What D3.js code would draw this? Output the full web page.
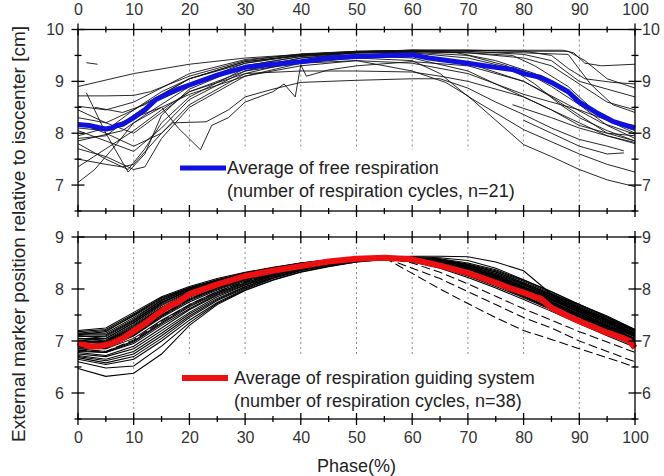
<!DOCTYPE html>
<html><head><meta charset="utf-8">
<script src="https://cdn.jsdelivr.net/npm/d3@7"></script>
<style>
html,body{margin:0;padding:0;background:#fff;}
svg{display:block;font-family:"Liberation Sans",Arial,sans-serif;}
</style></head>
<body><svg id="chart" width="664" height="476"></svg>
<script>
// ---------------- data ----------------
const xMajorTicks = [0,10,20,30,40,50,60,70,80,90,100];
const xMinorTicks = [5,15,25,35,45,55,65,75,85,95];
const gridPhases = [10,20,30,40,50,60,70,80,90];
const topYMajor = [7,8,9,10];
const topYMinor = [6.5,7.5,8.5,9.5];
const botYMajor = [6,7,8,9];
const botYMinor = [5.5,6.5,7.5,8.5];
const xLabel = "Phase(%)";
const yLabel = "External marker position relative to isocenter [cm]";
const topLegend = ["Average of free respiration", "(number of respiration cycles, n=21)"];
const botLegend = ["Average of respiration guiding system", "(number of respiration cycles, n=38)"];

// average of free respiration (blue)
const bluePhase = [0,2,4,5,6,7,8,10,12,14,16,18,20,25,30,35,40,45,50,55,60,63,65,68,70,75,78,80,83,85,88,90,93,96,100];
const blueVals  = [8.17,8.15,8.1,8.08,8.1,8.15,8.17,8.3,8.45,8.65,8.75,8.85,8.93,9.12,9.27,9.33,9.38,9.45,9.48,9.5,9.51,9.45,9.42,9.38,9.35,9.27,9.23,9.15,9.08,8.98,8.8,8.6,8.4,8.23,8.1];

// average of respiration guiding system (red)
const redPhase = [0,2,4,6,8,10,12,14,16,18,20,25,30,35,40,45,50,55,60,65,70,75,78,80,82,83,85,88,90,93,95,98,99,100];
const redVals  = [6.97,6.9,6.9,6.95,7.05,7.19,7.33,7.5,7.65,7.75,7.9,8.09,8.25,8.35,8.44,8.53,8.58,8.6,8.57,8.45,8.31,8.12,8.0,7.93,7.85,7.82,7.64,7.48,7.38,7.25,7.16,7.05,7.0,6.87];

// individual free-respiration cycles: [phase, position]
const freeCycles = [
  [[0,8.9],[10,9.15],[20,9.33],[30,9.45],[40,9.52],[50,9.57],[60,9.6],[70,9.6],[80,9.6],[87,9.6],[89,9.55],[91,9.35],[94,9.3],[100,9.33]],
  [[1.5,9.36],[3.5,9.33]],
  [[0,8.72],[5,8.72],[10,8.73],[13,8.8],[20,9.1],[30,9.4],[40,9.53],[50,9.58],[60,9.6],[70,9.6],[80,9.58],[88,9.58],[91,9.4],[95,9.05],[100,8.87]],
  [[0,8.52],[5,8.45],[10,8.6],[20,9.15],[30,9.42],[40,9.52],[50,9.57],[60,9.6],[70,9.58],[80,9.52],[85,9.4],[90,9.0],[95,8.85],[100,8.7]],
  [[0,8.3],[5,8.2],[10,8.45],[20,9.05],[30,9.38],[40,9.5],[50,9.56],[60,9.58],[70,9.55],[80,9.45],[85,9.3],[90,8.95],[95,8.6],[100,8.45]],
  [[1.5,8.78],[5,8.0],[9,7.25],[12,7.6],[15,8.35],[20,8.85],[30,9.3],[40,9.48],[50,9.55],[60,9.58],[70,9.55],[78,9.5],[82,9.3],[88,8.9],[92,8.5],[96,8.2],[100,8.0]],
  [[0,8.05],[5,7.85],[10,7.65],[15,8.1],[20,8.65],[30,9.2],[40,9.45],[50,9.55],[60,9.55],[70,9.45],[80,9.2],[85,8.9],[90,8.55],[95,8.15],[100,7.9]],
  [[0,7.95],[5,8.1],[10,8.3],[15,8.5],[18,8.1],[22,7.68],[24,8.15],[27,8.3],[30,8.6],[33,8.72],[35,8.8],[37,8.95],[39,8.7],[40,9.32],[41,9.1],[45,9.22],[50,9.3],[60,9.38],[70,9.3],[80,9.0],[88,8.55],[94,8.2],[100,7.98]],
  [[0,7.8],[5,7.5],[9,7.3],[12,7.7],[15,8.2],[20,8.7],[30,9.25],[40,9.45],[50,9.52],[60,9.5],[70,9.35],[80,9.0],[85,8.7],[90,8.35],[95,8.0],[100,7.85]],
  [[0,7.5],[5,7.4],[8,7.35],[10,7.4],[15,8.0],[20,8.55],[30,9.15],[40,9.4],[50,9.5],[60,9.45],[70,9.2],[80,8.7],[85,8.45],[90,8.2],[95,7.95],[100,7.8]],
  [[0,7.05],[3,7.3],[7,7.8],[10,8.2],[15,8.5],[20,8.75],[30,9.1],[40,9.35],[50,9.45],[60,9.4],[65,9.15],[70,8.71],[80,8.07],[90,7.6],[95,7.4],[100,7.25]],
  [[0,7.35],[5,7.7],[10,8.05],[15,8.45],[20,8.8],[30,9.2],[40,9.35],[50,9.4],[60,9.2],[66,8.98],[70,8.72],[75,8.25],[80,7.78],[85,7.55],[90,7.3],[95,7.1],[100,6.97]],
  [[0,8.2],[5,8.0],[10,7.75],[15,8.0],[17,8.2],[23,8.22],[27,8.45],[30,8.7],[35,8.85],[40,8.98],[50,9.02],[60,9.05],[65,9.05],[70,8.87],[75,8.6],[80,8.36],[85,8.1],[90,7.88],[95,7.75],[98,7.66]],
  [[0,8.45],[5,8.2],[10,8.0],[15,8.4],[20,8.8],[30,9.15],[40,9.2],[50,9.2],[60,9.18],[65,9.1],[70,9.0],[80,8.7],[85,8.45],[90,8.15],[95,8.0],[100,7.95]],
  [[0,7.9],[5,7.95],[10,8.35],[15,8.7],[20,8.95],[30,9.35],[40,9.52],[50,9.58],[60,9.6],[70,9.6],[80,9.58],[85,9.5],[88,9.25],[91,9.05],[96,8.98],[100,8.95]],
  [[0,8.1],[5,8.05],[10,8.45],[15,8.8],[20,9.05],[30,9.38],[40,9.5],[50,9.56],[60,9.58],[70,9.57],[80,9.55],[88,9.52],[92,8.95],[96,8.55],[100,8.4]],
  [[3,8.5],[8,8.4],[12,8.55],[20,9.05],[30,9.35],[40,9.5],[50,9.55],[60,9.56],[70,9.5],[77,9.3],[82,8.95],[86,8.6],[90,8.3],[95,8.05],[100,7.85]],
  [[78,8.55],[85,8.3],[90,8.1],[95,7.95],[100,7.82]],
  [[80,8.25],[85,8.0],[90,7.75],[95,7.6],[98,7.62]],
  [[0,7.7],[5,7.55],[10,7.3],[12,7.35],[15,7.9],[20,8.5],[30,9.1],[40,9.3],[50,9.4],[60,9.35],[70,9.15],[80,8.75],[90,8.45],[95,8.25],[100,8.05]],
  [[0,7.85],[4,7.95],[8,8.05],[12,8.35],[20,8.9],[30,9.3],[40,9.48],[50,9.55],[60,9.57],[68,9.55],[75,9.4],[82,9.15],[88,8.8],[92,8.45],[96,8.2],[100,8.15]]
];

// individual respiration-guided cycles, values at bottomPhases
const bottomPhases = [0,5,10,15,20,25,30,35,40,45,50,55,60,65,70,75,80,85,90,95,100];
const guidedCycles = [
  [7.20,7.25,7.55,7.85,8.05,8.20,8.32,8.42,8.50,8.56,8.60,8.62,8.62,8.60,8.55,8.40,8.18,7.95,7.70,7.45,7.20],
  [7.15,7.15,7.45,7.78,8.00,8.15,8.28,8.40,8.48,8.55,8.60,8.62,8.60,8.55,8.45,8.30,8.10,7.88,7.62,7.38,7.12],
  [7.10,7.05,7.35,7.70,7.95,8.12,8.27,8.38,8.47,8.54,8.59,8.61,8.58,8.50,8.38,8.22,8.02,7.80,7.55,7.30,7.05],
  [7.05,7.00,7.25,7.62,7.90,8.10,8.25,8.37,8.46,8.53,8.58,8.60,8.56,8.45,8.30,8.12,7.92,7.70,7.45,7.22,6.98],
  [7.00,6.95,7.20,7.55,7.85,8.05,8.22,8.35,8.45,8.52,8.57,8.59,8.55,8.42,8.27,8.08,7.85,7.62,7.40,7.18,6.95],
  [6.95,6.90,7.15,7.50,7.80,8.02,8.20,8.33,8.43,8.51,8.57,8.60,8.57,8.48,8.35,8.18,7.97,7.73,7.48,7.25,7.05],
  [6.90,6.88,7.10,7.45,7.75,7.98,8.17,8.31,8.42,8.50,8.56,8.60,8.58,8.52,8.42,8.26,8.05,7.82,7.58,7.35,7.10],
  [6.85,6.85,7.05,7.40,7.70,7.95,8.15,8.30,8.41,8.50,8.56,8.59,8.55,8.46,8.32,8.14,7.93,7.70,7.46,7.23,7.00],
  [6.80,6.78,6.95,7.30,7.62,7.90,8.10,8.27,8.40,8.49,8.55,8.59,8.56,8.47,8.35,8.20,8.00,7.78,7.55,7.32,7.08],
  [6.75,6.70,6.85,7.20,7.55,7.85,8.07,8.25,8.38,8.48,8.55,8.58,8.54,8.44,8.30,8.12,7.90,7.66,7.42,7.20,6.95],
  [6.70,6.62,6.75,7.10,7.48,7.80,8.04,8.22,8.36,8.46,8.54,8.58,8.55,8.47,8.36,8.21,8.02,7.80,7.57,7.35,7.12],
  [6.65,6.55,6.65,7.00,7.40,7.74,8.00,8.20,8.35,8.46,8.53,8.58,8.56,8.50,8.40,8.25,8.05,7.84,7.60,7.38,7.15],
  [6.47,6.32,6.38,6.75,7.30,7.70,7.97,8.17,8.32,8.43,8.52,8.57,8.55,8.48,8.37,8.22,8.02,7.80,7.58,7.36,7.14],
  [6.60,6.48,6.52,6.90,7.35,7.72,7.98,8.18,8.33,8.44,8.52,8.57,8.54,8.45,8.32,8.16,7.96,7.74,7.50,7.28,7.05],
  [7.05,7.05,7.35,7.72,7.98,8.15,8.30,8.40,8.49,8.55,8.60,8.62,8.63,8.63,8.62,8.52,8.35,7.90,7.70,7.48,7.22],
  [7.12,7.18,7.50,7.82,8.02,8.18,8.30,8.41,8.49,8.55,8.60,8.62,8.61,8.57,8.48,8.35,8.15,7.92,7.68,7.42,7.18],
  [7.08,7.10,7.40,7.75,7.98,8.14,8.28,8.39,8.48,8.55,8.59,8.61,8.59,8.53,8.43,8.28,8.08,7.86,7.63,7.40,7.15],
  [6.98,7.00,7.30,7.65,7.92,8.10,8.25,8.37,8.46,8.53,8.58,8.60,8.57,8.50,8.40,8.25,8.04,7.82,7.60,7.38,7.15],
  [6.92,6.92,7.22,7.58,7.87,8.07,8.22,8.35,8.45,8.52,8.57,8.60,8.58,8.51,8.41,8.27,8.07,7.85,7.62,7.40,7.18],
  [6.88,6.85,7.12,7.50,7.82,8.03,8.19,8.33,8.44,8.51,8.57,8.59,8.55,8.44,8.30,8.12,7.90,7.67,7.43,7.20,6.95],
  [6.90,6.87,7.12,7.48,7.80,8.02,8.20,8.33,8.44,8.52,8.58,8.60,8.30,8.00,7.72,7.45,7.20,7.03,6.85,6.68,6.50],
  [7.00,6.95,7.20,7.55,7.85,8.06,8.22,8.35,8.45,8.52,8.57,8.60,8.40,8.20,7.95,7.70,7.45,7.25,7.00,6.80,6.60],
  [6.82,6.80,7.02,7.38,7.70,7.95,8.14,8.30,8.42,8.50,8.56,8.59,8.50,8.32,8.10,7.86,7.62,7.40,7.18,6.98,6.78],
  [7.18,7.22,7.52,7.83,8.03,8.18,8.31,8.41,8.50,8.56,8.60,8.62,8.60,8.52,8.38,8.20,7.98,7.75,7.52,7.30,7.08],
  [7.02,6.98,7.28,7.64,7.92,8.10,8.25,8.37,8.46,8.53,8.58,8.60,8.55,8.42,8.25,8.05,7.83,7.60,7.37,7.15,6.92],
  [6.95,6.92,7.18,7.55,7.85,8.05,8.21,8.34,8.44,8.52,8.57,8.60,8.56,8.45,8.30,8.10,7.87,7.63,7.40,7.17,6.95],
  [6.78,6.72,6.90,7.25,7.60,7.88,8.08,8.26,8.39,8.48,8.55,8.58,8.52,8.40,8.22,8.02,7.80,7.57,7.33,7.10,6.88],
  [7.10,7.08,7.38,7.74,7.97,8.14,8.28,8.39,8.48,8.55,8.59,8.61,8.60,8.56,8.47,8.33,8.12,7.89,7.65,7.42,7.20],
  [6.85,6.80,7.00,7.35,7.68,7.93,8.12,8.29,8.41,8.50,8.56,8.59,8.57,8.49,8.37,8.20,7.99,7.76,7.52,7.28,7.03],
  [7.15,7.20,7.48,7.80,8.02,8.17,8.30,8.40,8.49,8.56,8.60,8.62,8.61,8.58,8.50,8.37,8.17,7.94,7.70,7.46,7.22],
  [6.72,6.65,6.80,7.15,7.52,7.82,8.05,8.23,8.37,8.47,8.54,8.58,8.54,8.43,8.28,8.08,7.86,7.62,7.38,7.15,6.90],
  [7.00,6.97,7.24,7.60,7.88,8.08,8.24,8.36,8.46,8.53,8.58,8.60,8.58,8.51,8.40,8.24,8.02,7.79,7.55,7.32,7.08],
  [6.90,6.86,7.10,7.47,7.78,8.00,8.18,8.32,8.43,8.51,8.57,8.60,8.57,8.49,8.37,8.22,8.02,7.80,7.57,7.34,7.10],
  [7.05,7.02,7.32,7.68,7.94,8.12,8.26,8.38,8.47,8.54,8.59,8.61,8.59,8.54,8.44,8.30,8.10,7.88,7.64,7.40,7.15],
  [6.68,6.58,6.70,7.05,7.45,7.78,8.02,8.21,8.36,8.46,8.54,8.58,8.55,8.46,8.33,8.16,7.95,7.72,7.48,7.25,7.00],
  [6.98,6.95,7.22,7.58,7.86,8.06,8.22,8.35,8.45,8.52,8.58,8.60,8.57,8.47,8.33,8.15,7.93,7.70,7.46,7.24,7.02],
  [7.12,7.12,7.42,7.78,8.00,8.16,8.29,8.40,8.49,8.55,8.60,8.62,8.60,8.55,8.46,8.32,8.12,7.90,7.67,7.44,7.20],
  [6.82,6.78,6.98,7.33,7.66,7.92,8.12,8.28,8.40,8.49,8.55,8.59,8.56,8.48,8.35,8.18,7.97,7.74,7.50,7.27,7.02]
];
const dashedGuided = [20,21,22];

// ---------------- drawing ----------------
const svg = d3.select("#chart");
const x = d3.scaleLinear().domain([0,100]).range([78,635]);
const yTop = d3.scaleLinear().domain([6.5,10]).range([211,29.5]);
const yBot = d3.scaleLinear().domain([5.5,9]).range([419,237]);
const FONT = '"Liberation Sans",Arial,sans-serif';

function drawPanel(yS, legendBox) {
  const g = svg.append("g");
  const [y0, y1] = yS.range(); // bottom, top
  g.selectAll(".grid").data(gridPhases).join("line")
    .attr("x1", d => x(d)).attr("x2", d => x(d))
    .attr("y1", y1).attr("y2", y0)
    .attr("stroke", "#8a8a8a").attr("stroke-width", 1).attr("stroke-dasharray", "2,3");
  g.append("rect").attr("x", legendBox[0]).attr("y", legendBox[1])
    .attr("width", legendBox[2]).attr("height", legendBox[3]).attr("fill", "#fff");
  return g;
}

function drawFrame(yS, yMaj, yMin, labelTop, labelBottom) {
  const g = svg.append("g");
  const [y0, y1] = yS.range();
  g.append("rect").attr("x", x(0)).attr("y", y1).attr("width", x(100)-x(0)).attr("height", y0-y1)
    .attr("fill", "none").attr("stroke", "#000").attr("stroke-width", 1.3);
  const tick = (vals, len, horiz) => {
    vals.forEach(v => {
      if (horiz) {
        [y0, y1].forEach(yy => g.append("line").attr("x1", x(v)).attr("x2", x(v))
          .attr("y1", yy-len).attr("y2", yy+len).attr("stroke","#000").attr("stroke-width",1.3));
      } else {
        [x(0), x(100)].forEach(xx => g.append("line").attr("x1", xx-len).attr("x2", xx+len)
          .attr("y1", yS(v)).attr("y2", yS(v)).attr("stroke","#000").attr("stroke-width",1.3));
      }
    });
  };
  tick(xMajorTicks, 6, true);
  tick(xMinorTicks, 3, true);
  tick(yMaj, 6.5, false);
  tick(yMin, 3.5, false);
  const axL = d3.axisLeft(yS).tickValues(yMaj).tickSize(0).tickPadding(14).tickFormat(d3.format("d"));
  const axR = d3.axisRight(yS).tickValues(yMaj).tickSize(0).tickPadding(7).tickFormat(d3.format("d"));
  const gl = g.append("g").attr("transform", `translate(${x(0)},0)`).call(axL);
  const gr = g.append("g").attr("transform", `translate(${x(100)},0)`).call(axR);
  [gl, gr].forEach(a => { a.select(".domain").remove();
    a.selectAll("text").attr("font-family", FONT).attr("font-size", 16).attr("fill", "#333"); });
  if (labelTop) {
    const at = d3.axisTop(x).tickValues(xMajorTicks).tickSize(0).tickPadding(15);
    const ga = g.append("g").attr("transform", `translate(0,${y1})`).call(at);
    ga.select(".domain").remove();
    ga.selectAll("text").attr("font-family", FONT).attr("font-size", 16).attr("fill", "#333");
  }
  if (labelBottom) {
    const ab = d3.axisBottom(x).tickValues(xMajorTicks).tickSize(0).tickPadding(13);
    const ga = g.append("g").attr("transform", `translate(0,${y0})`).call(ab);
    ga.select(".domain").remove();
    ga.selectAll("text").attr("font-family", FONT).attr("font-size", 16).attr("fill", "#333");
  }
}

drawPanel(yTop, [172, 150, 392, 60]);
drawPanel(yBot, [172, 356, 392, 62]);

const lineTop = d3.line().x(d => x(d[0])).y(d => yTop(d[1]));
svg.append("g").selectAll("path").data(freeCycles).join("path")
  .attr("d", lineTop).attr("fill", "none").attr("stroke", "#111").attr("stroke-width", 0.9);

const lineBot = d3.line().defined(d => d[1] != null).x(d => x(d[0])).y(d => yBot(d[1]));
svg.append("g").selectAll("path").data(guidedCycles).join("path")
  .attr("d", c => lineBot(c.map((v,i) => [bottomPhases[i], v])))
  .attr("fill", "none").attr("stroke", "#000").attr("stroke-width", 1.05)
  .attr("stroke-dasharray", (c,i) => dashedGuided.includes(i) ? "9,4" : null);

svg.append("path").datum(bluePhase.map((p,i) => [p, blueVals[i]]))
  .attr("d", lineTop).attr("fill", "none").attr("stroke", "#1010e0").attr("stroke-width", 5)
  .attr("stroke-linejoin", "round");
svg.append("path").datum(redPhase.map((p,i) => [p, redVals[i]]))
  .attr("d", lineBot).attr("fill", "none").attr("stroke", "#ee1010").attr("stroke-width", 6)
  .attr("stroke-linejoin", "round");

drawFrame(yTop, topYMajor, topYMinor, true, false);
drawFrame(yBot, botYMajor, botYMinor, false, true);

function legend(y, color, width, lines, x1, x2, tx) {
  svg.append("line").attr("x1", x1).attr("x2", x2).attr("y1", y).attr("y2", y)
    .attr("stroke", color).attr("stroke-width", width);
  svg.append("text").attr("x", tx).attr("y", y + 6).attr("font-family", FONT).attr("font-size", 18)
    .attr("fill", "#222").text(lines[0]);
  svg.append("text").attr("x", tx).attr("y", y + 29).attr("font-family", FONT).attr("font-size", 18)
    .attr("fill", "#222").text(lines[1]);
}
legend(168, "#1010e0", 5, topLegend, 180, 226, 227);
legend(378, "#ee1010", 6, botLegend, 182, 228, 234);

svg.append("text").attr("x", x(50)).attr("y", 472).attr("text-anchor", "middle")
  .attr("font-family", FONT).attr("font-size", 18).attr("fill", "#222").text(xLabel);
svg.append("text").attr("transform", "translate(25,234) rotate(-90)").attr("text-anchor", "middle")
  .attr("font-family", FONT).attr("font-size", 19).attr("fill", "#222").text(yLabel);
</script>
</body></html>
